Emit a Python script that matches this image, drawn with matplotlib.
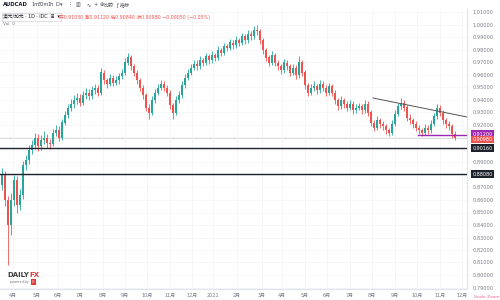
import matplotlib
matplotlib.use('Agg')
import matplotlib.pyplot as plt
import numpy as np

plt.rcParams['font.family'] = ['DejaVu Sans', 'Noto Sans CJK SC']

# AUDCAD, one candle per 3 trading days (Mar 2020 - Nov 2021)
first_open = 0.872
closes = [0.880, 0.860, 0.840, 0.860, 0.876, 0.856, 0.864, 0.888, 0.892, 0.900,
          0.904, 0.910, 0.903, 0.908, 0.910, 0.906, 0.905, 0.914, 0.916, 0.910,
          0.922, 0.928, 0.934, 0.937, 0.940, 0.942, 0.938, 0.944, 0.946, 0.943,
          0.948, 0.950, 0.946, 0.962, 0.956, 0.953, 0.958, 0.954, 0.956, 0.959,
          0.962, 0.970, 0.974, 0.967, 0.962, 0.956, 0.950, 0.944, 0.934, 0.930,
          0.940, 0.946, 0.950, 0.953, 0.950, 0.946, 0.936, 0.930, 0.940, 0.944,
          0.952, 0.958, 0.962, 0.966, 0.969, 0.967, 0.972, 0.970, 0.975, 0.972,
          0.976, 0.974, 0.980, 0.978, 0.983, 0.982, 0.986, 0.984, 0.988, 0.986,
          0.991, 0.988, 0.993, 0.991, 0.996, 0.995, 0.988, 0.980, 0.974, 0.970,
          0.976, 0.970, 0.967, 0.964, 0.970, 0.967, 0.962, 0.966, 0.960, 0.970,
          0.962, 0.952, 0.946, 0.950, 0.951, 0.948, 0.953, 0.950, 0.946, 0.951,
          0.946, 0.940, 0.935, 0.940, 0.937, 0.934, 0.937, 0.932, 0.934, 0.935,
          0.932, 0.937, 0.930, 0.922, 0.918, 0.924, 0.921, 0.919, 0.916, 0.914,
          0.921, 0.929, 0.935, 0.938, 0.934, 0.926, 0.924, 0.921, 0.918, 0.916,
          0.914, 0.918, 0.916, 0.921, 0.927, 0.934, 0.930, 0.924, 0.921, 0.919,
          0.913, 0.910]
highs = [0.886, 0.883, 0.863, 0.866, 0.880, 0.879, 0.869, 0.891, 0.896, 0.904,
         0.908, 0.914, 0.913, 0.912, 0.915, 0.913, 0.909, 0.917, 0.920, 0.919,
         0.925, 0.931, 0.937, 0.941, 0.944, 0.946, 0.945, 0.947, 0.950, 0.949,
         0.951, 0.953, 0.952, 0.966, 0.964, 0.958, 0.961, 0.960, 0.959, 0.962,
         0.965, 0.974, 0.978, 0.976, 0.969, 0.964, 0.958, 0.952, 0.946, 0.937,
         0.943, 0.949, 0.953, 0.956, 0.955, 0.952, 0.948, 0.938, 0.943, 0.947,
         0.955, 0.961, 0.965, 0.969, 0.972, 0.972, 0.975, 0.974, 0.978, 0.977,
         0.979, 0.978, 0.983, 0.982, 0.986, 0.985, 0.989, 0.988, 0.991, 0.990,
         0.994, 0.993, 0.996, 0.995, 0.999, 1.000, 0.997, 0.990, 0.982, 0.976,
         0.979, 0.978, 0.972, 0.969, 0.973, 0.972, 0.969, 0.969, 0.968, 0.975,
         0.972, 0.964, 0.954, 0.953, 0.955, 0.953, 0.956, 0.955, 0.952, 0.954,
         0.953, 0.948, 0.942, 0.943, 0.942, 0.939, 0.940, 0.939, 0.937, 0.938,
         0.937, 0.940, 0.939, 0.932, 0.924, 0.927, 0.926, 0.923, 0.921, 0.918,
         0.924, 0.932, 0.938, 0.942, 0.940, 0.936, 0.929, 0.926, 0.923, 0.920,
         0.918, 0.921, 0.920, 0.924, 0.930, 0.937, 0.936, 0.932, 0.926, 0.923,
         0.921, 0.915]
lows = [0.868, 0.855, 0.808, 0.832, 0.855, 0.850, 0.852, 0.861, 0.884, 0.889,
        0.897, 0.901, 0.899, 0.900, 0.905, 0.902, 0.901, 0.903, 0.911, 0.907,
        0.908, 0.920, 0.926, 0.931, 0.934, 0.937, 0.935, 0.936, 0.941, 0.940,
        0.941, 0.945, 0.943, 0.944, 0.953, 0.950, 0.951, 0.951, 0.952, 0.953,
        0.957, 0.960, 0.968, 0.964, 0.959, 0.953, 0.947, 0.941, 0.931, 0.925,
        0.928, 0.938, 0.944, 0.948, 0.947, 0.943, 0.933, 0.925, 0.928, 0.938,
        0.942, 0.950, 0.956, 0.960, 0.964, 0.964, 0.965, 0.967, 0.968, 0.969,
        0.970, 0.971, 0.972, 0.975, 0.976, 0.979, 0.980, 0.981, 0.982, 0.983,
        0.984, 0.985, 0.986, 0.988, 0.989, 0.992, 0.985, 0.977, 0.971, 0.967,
        0.968, 0.967, 0.964, 0.961, 0.962, 0.964, 0.959, 0.960, 0.957, 0.958,
        0.959, 0.949, 0.943, 0.944, 0.947, 0.945, 0.946, 0.947, 0.943, 0.944,
        0.943, 0.937, 0.932, 0.933, 0.934, 0.931, 0.932, 0.929, 0.930, 0.932,
        0.929, 0.930, 0.927, 0.919, 0.915, 0.916, 0.918, 0.916, 0.913, 0.911,
        0.912, 0.919, 0.927, 0.933, 0.931, 0.923, 0.921, 0.918, 0.915, 0.913,
        0.911, 0.912, 0.913, 0.914, 0.919, 0.925, 0.927, 0.921, 0.918, 0.916,
        0.910, 0.908]
opens = [first_open] + closes[:-1]

month_pos = [13, 37, 58, 80, 103, 125, 147, 170, 192, 213, 237,
             262, 282, 305, 327, 350, 372, 395, 417, 440, 462]
month_labels = ['4月', '5月', '6月', '7月', '8月', '9月', '10月', '11月', '12月',
                '2021', '2月', '3月', '4月', '5月', '6月', '7月', '8月', '9月',
                '10月', '11月', '12月']

black_levels = [0.9016, 0.8808]
purple_level = 0.912
purple_start = 418
trend_x = [373, 467]
trend_y = [0.9416, 0.9264]
last_price = 0.9098

up_col = '#26a69a'
dn_col = '#ef5350'

fig = plt.figure(figsize=(5, 3), dpi=100)
ax = fig.add_axes([0, 1 - 289/300, 467/500, 280/300])

xs = np.arange(len(closes)) * 3 + 1.5
for x, o, h, l, c in zip(xs, opens, highs, lows, closes):
    col = up_col if c >= o else dn_col
    ax.vlines(x, l, h, color=col, lw=0.6, zorder=3)
    ax.bar(x, max(abs(c - o), 0.0004), bottom=min(o, c), width=2.0,
           color=col, lw=0, zorder=4)

# drawings
for lv in black_levels:
    ax.axhline(lv, color='#1e222d', lw=1.0, zorder=5)
ax.plot([purple_start, 467], [purple_level, purple_level], color='#9c27b0', lw=1.0, zorder=5)
ax.plot(trend_x, trend_y, color='#555555', lw=0.7, zorder=5)
ax.axhline(last_price, color='#d6d6d6', lw=0.6, zorder=1)

ax.set_xlim(0, 467)
ax.set_ylim(0.7888, 1.0128)
price_ticks = np.arange(0.79, 1.0101, 0.01)
# labels under the price badges are hidden, as on the platform
hidden = [0.88, 0.90, 0.91]
ax.set_yticks(price_ticks)
ax.set_yticklabels(['' if any(abs(p - h) < 1e-6 for h in hidden) else '%.5f' % p
                    for p in price_ticks])
ax.yaxis.tick_right()
ax.set_xticks(month_pos)
ax.set_xticklabels(month_labels)
ax.tick_params(axis='both', length=0, labelsize=3.6, colors='#787b86')
ax.tick_params(axis='y', pad=4)
ax.tick_params(axis='x', pad=3)
ax.grid(True, color='#f1f3f6', lw=0.5, zorder=0)
for s in ['top', 'left']:
    ax.spines[s].set_visible(False)
for s in ['right', 'bottom']:
    ax.spines[s].set_color('#e0e3eb')
    ax.spines[s].set_linewidth(0.8)

# price badges (purple and red stacked so they do not overlap)
badges = [(purple_level, 0.9126, '#9c27b0'), (last_price, 0.9084, dn_col),
          (black_levels[0], black_levels[0], '#1e222d'),
          (black_levels[1], black_levels[1], '#1e222d')]
tr = ax.get_yaxis_transform()
for lv, ypos, col in badges:
    ax.text(1.012, ypos, '%.5f' % lv, transform=tr, fontsize=3.5, color='white',
            ha='left', va='center', clip_on=False, zorder=10,
            bbox=dict(boxstyle='square,pad=0.3', fc=col, ec='none'))

# header
fig.text(3/500, 1 - 5/300, 'AUDCAD', fontsize=3.8, fontweight='bold', color='#131722', va='center')
for xp, t in [(31, '1m'), (38, '30m'), (48, '1h'), (55, 'D'), (60, '▾'), (68, '⋮'),
              (76, '▥'), (86, '∿'), (93, '+'), (99, '⊕'), (104, '比较'), (116, 'ƒ'), (120, '指标')]:
    fig.text(xp/500, 1 - 5/300, t, fontsize=3.6, color='#434651', va='center')
fig.text(3/500, 1 - 17/300, '澳元/加元 · 1D · IDC  ⊞  ▾', fontsize=3.4, color='#131722', va='center',
         bbox=dict(boxstyle='square,pad=0.3', fc='white', ec='#c8c8c8', lw=0.4))
fig.text(59/500, 1 - 17/300, '开0.91030 高0.91120 低0.90840 收0.90980 −0.00050 (−0.05%)',
         fontsize=3.4, color=dn_col, va='center')
fig.text(3/500, 1 - 24/300, 'Vol  0', fontsize=3.2, color='#787b86', va='center')

# logo
fig.text(7/500, 1 - 275/300, 'DAILY', fontsize=5, fontweight='bold', color='#3d3d3d', va='center')
fig.text(29.5/500, 1 - 275/300, 'FX', fontsize=5, fontweight='bold', color='#e53935', va='center')
fig.text(10/500, 1 - 282/300, 'powered by', fontsize=2.3, color='#777777', va='center')
fig.text(32/500, 1 - 282/300, 'IG', fontsize=2.3, color='white', va='center',
         bbox=dict(boxstyle='square,pad=0.2', fc='#e53935', ec='none'))

fig.text(474/500, 1 - 297/300, 'Scale Zoom', fontsize=3.2, color='#f06292', va='center')

fig.savefig('out.png', dpi=100)
